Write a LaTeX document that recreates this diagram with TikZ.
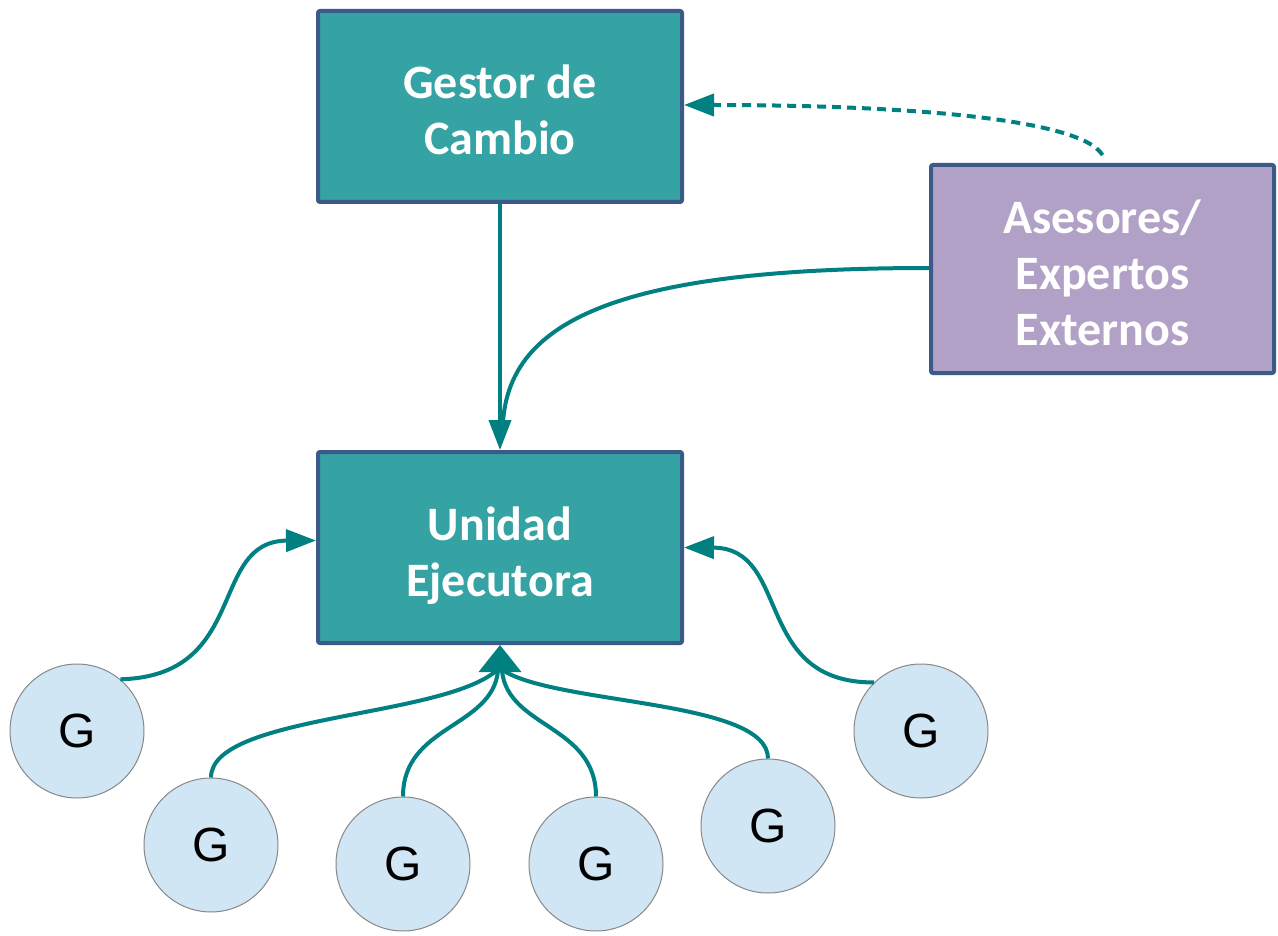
\documentclass[tikz,border=0pt]{standalone}
\usepackage{fontspec}
\setmainfont{Carlito}
\newfontfamily\gfont{Liberation Sans}
\usetikzlibrary{arrows.meta,calc}
\definecolor{tealfill}{HTML}{35A3A3}
\definecolor{bord}{HTML}{3C5A88}
\definecolor{purp}{HTML}{B2A1C7}
\definecolor{lnc}{HTML}{008080}
\definecolor{cfill}{HTML}{D0E6F4}
\definecolor{cbord}{HTML}{888888}
\begin{document}
\begin{tikzpicture}[x=1pt,y=-1pt,
  box/.style={draw=bord,line width=4pt,rounded corners=2pt,inner sep=0pt,text=white,
    font=\fontsize{48}{56}\selectfont\bfseries,align=center,text depth=0pt},
  gnode/.style={circle,draw=cbord,line width=1pt,fill=cfill,minimum size=134pt,inner sep=0pt,
    font=\gfont\fontsize{48}{48}\selectfont},
  conn/.style={draw=lnc,line width=4pt},
  tipsmall/.style={-{Triangle[length=30pt,width=22pt]}},
  tipbig/.style={-{Triangle[length=27pt,width=42pt]}}
]
\useasboundingbox (0,0) rectangle (1278,936);
\fill[white] (0,0) rectangle (1278,936);

\node[box,fill=tealfill,minimum width=364pt,minimum height=191pt,text height=97pt] (gestor) at (500,106.5) {Gestor de\\Cambio};
\node[box,fill=tealfill,minimum width=364pt,minimum height=191pt,text height=98pt] (unidad) at (500,547.5) {Unidad\\Ejecutora};
\node[box,fill=purp,minimum width=343pt,minimum height=208pt,text height=152pt] (asesores) at (1102.5,269) {Asesores/\\Expertos\\Externos};

\node[gnode] (g1) at (77,731) {G};
\node[gnode] (g2) at (211,845) {G};
\node[gnode] (g3) at (403,864) {G};
\node[gnode] (g4) at (596,864) {G};
\node[gnode] (g5) at (768,826) {G};
\node[gnode] (g6) at (921,731) {G};

% top connectors
\coordinate (ut) at ($(unidad.north)+(3,-28)$);
\draw[conn,tipsmall] (gestor.south) -- (unidad.north);
\draw[conn] ($(asesores.west)+(0,-1)$) .. controls (620,268) and (510,320) .. (ut);
\draw[conn,tipsmall,dash pattern=on 9pt off 6pt] ($(asesores.north)+(0,-8)$) .. controls (1080,118) and (900,105) .. (gestor.east |- 0,105);

% side connectors
\draw[conn,tipsmall] (g1.50) .. controls (250,676) and (208,541) .. ($(unidad.west)+(0,-7)$);
\draw[conn,tipsmall] (g6.134) .. controls (752,683) and (792,548) .. ($(unidad.east)+(0,0)$);

% bottom converging connectors
\coordinate (ub) at ($(unidad.south)+(0,26)$);
\draw[conn] (g2.north) .. controls (211,715) and (440,718) .. ($(ub)+(-4,0)$);
\draw[conn] (g3.north) .. controls (403,725) and (492,728) .. ($(ub)+(-2,0)$);
\draw[conn] (g4.north) .. controls (596,725) and (508,728) .. ($(ub)+(2,0)$);
\draw[conn] (g5.north) .. controls (768,700) and (560,705) .. ($(ub)+(4,0)$);
\draw[conn,tipbig] (ub) -- (unidad.south);
\end{tikzpicture}
\end{document}
